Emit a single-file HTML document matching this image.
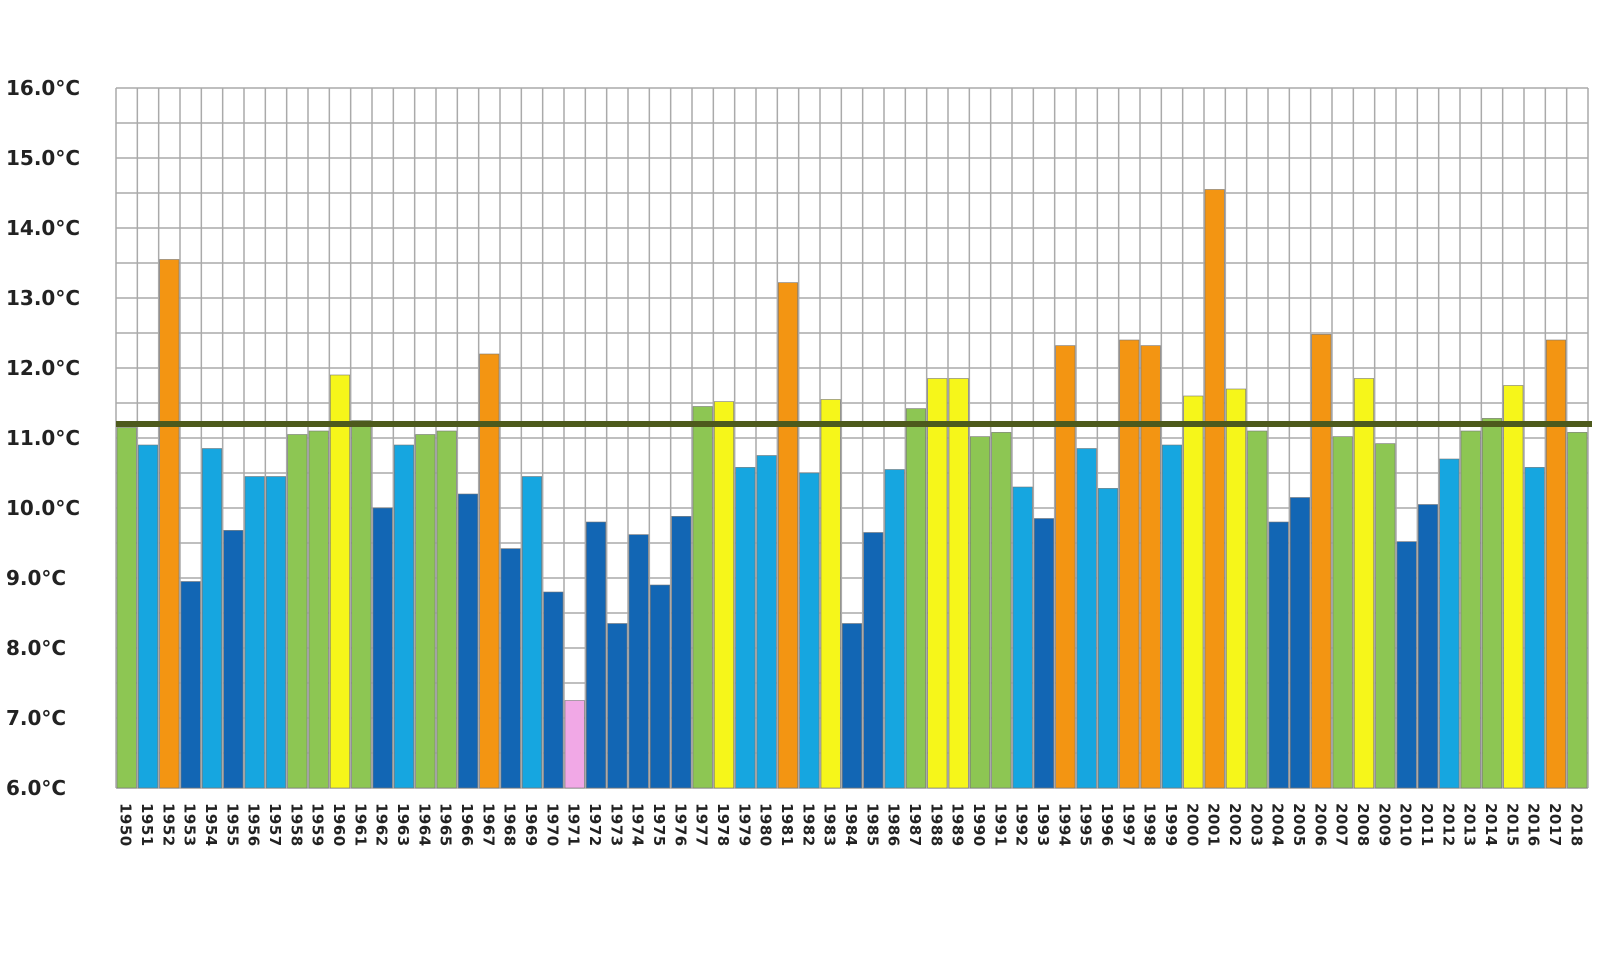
<!DOCTYPE html>
<html><head><meta charset="utf-8"><style>
html,body{margin:0;padding:0;background:#fff;}
svg{display:block;font-family:"DejaVu Sans","Liberation Sans",sans-serif;}
</style></head><body>
<svg id="c" width="1600" height="960" xmlns="http://www.w3.org/2000/svg"></svg>
<script>
const vals=[[11.15,'g'],[10.9,'l'],[13.55,'o'],[8.95,'d'],[10.85,'l'],[9.68,'d'],[10.45,'l'],[10.45,'l'],[11.05,'g'],[11.1,'g'],
[11.9,'y'],[11.25,'g'],[10.0,'d'],[10.9,'l'],[11.05,'g'],[11.1,'g'],[10.2,'d'],[12.2,'o'],[9.42,'d'],[10.45,'l'],
[8.8,'d'],[7.25,'p'],[9.8,'d'],[8.35,'d'],[9.62,'d'],[8.9,'d'],[9.88,'d'],[11.45,'g'],[11.52,'y'],[10.58,'l'],
[10.75,'l'],[13.22,'o'],[10.5,'l'],[11.55,'y'],[8.35,'d'],[9.65,'d'],[10.55,'l'],[11.42,'g'],[11.85,'y'],[11.85,'y'],
[11.02,'g'],[11.08,'g'],[10.3,'l'],[9.85,'d'],[12.32,'o'],[10.85,'l'],[10.28,'l'],[12.4,'o'],[12.32,'o'],[10.9,'l'],
[11.6,'y'],[14.55,'o'],[11.7,'y'],[11.1,'g'],[9.8,'d'],[10.15,'d'],[12.48,'o'],[11.02,'g'],[11.85,'y'],[10.92,'g'],
[9.52,'d'],[10.05,'d'],[10.7,'l'],[11.1,'g'],[11.28,'g'],[11.75,'y'],[10.58,'l'],[12.4,'o'],[11.08,'g']];
const col={g:'#8dc653',l:'#16a6e0',o:'#f39512',d:'#1266b4',y:'#f6f61a',p:'#f1a8e6'};
const L=116,R=1588,T=88,B=788,n=69,w=(R-L)/n;
const Y=v=>B-(v-6)*70;
let s='';
for(let i=0;i<=20;i++){const y=T+i*35;s+=`<line x1="${L}" x2="${R}" y1="${y}" y2="${y}" stroke="#aaa" stroke-width="1.5"/>`;}
for(let i=0;i<=n;i++){const x=L+i*w;s+=`<line x1="${x}" x2="${x}" y1="${T}" y2="${B}" stroke="#aaa" stroke-width="1.5"/>`;}
vals.forEach((d,i)=>{const x=L+i*w+1,y=Y(d[0]);s+=`<rect x="${x}" y="${y}" width="${w-2}" height="${B-y}" fill="${col[d[1]]}" stroke="#777" stroke-width="0.6"/>`;
const cx=L+i*w+w/2;s+=`<text transform="translate(${cx-6},803) rotate(90)" font-size="15" font-weight="bold" fill="#222" letter-spacing="0.5">${1950+i}</text>`;});
s+=`<line x1="${L}" x2="${R+4}" y1="${Y(11.2)}" y2="${Y(11.2)}" stroke="#4d5a1c" stroke-width="6"/>`;
for(let v=6;v<=16;v++){s+=`<text x="6" y="${Y(v)+7}" font-size="20" font-weight="bold" fill="#222">${v}.0°C</text>`;}
document.getElementById('c').innerHTML=s;
</script>
</body></html>
